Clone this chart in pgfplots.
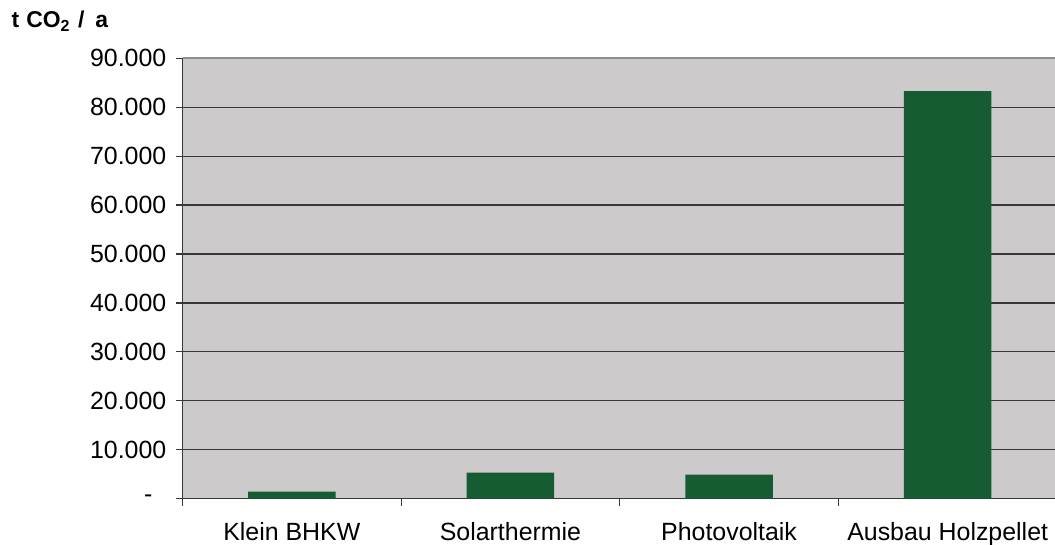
\documentclass[border=0pt]{standalone}
\usepackage{pgfplots}
\pgfplotsset{compat=1.18}
\usepackage{fontspec}
\setmainfont{Liberation Sans}
\definecolor{bg}{RGB}{204,202,203}
\definecolor{barc}{RGB}{21,92,50}
\definecolor{gridc}{RGB}{55,55,55}
\definecolor{topc}{RGB}{140,140,140}
\begin{document}
\begin{tikzpicture}[x=1bp,y=1bp]
\useasboundingbox (0,0) rectangle (1055,545);
\begin{axis}[
  at={(182.5bp,46.3bp)}, anchor=south west,
  scale only axis, width=874.5bp, height=440.4bp,
  xmin=-0.5, xmax=3.5, ymin=0, ymax=90000,
  scaled y ticks=false,
  axis background/.style={fill=bg},
  axis lines*=left,
  axis line style={-, draw=gridc, line width=1.6bp},
  ybar, bar width=0.4,
  tick align=outside,
  major tick length=7bp,
  tick style={draw=gridc, line width=1.2bp},
  xtick={-0.5,0.5,1.5,2.5},
  xticklabels={},
  extra x ticks={0,1,2,3},
  extra x tick labels={Klein BHKW,Solarthermie,Photovoltaik,Ausbau Holzpellet},
  extra x tick style={major tick length=0pt, grid=none},
  ytick={0,10000,20000,30000,40000,50000,60000,70000,80000,90000},
  yticklabels={{-\hspace*{14bp}},10.000,20.000,30.000,40.000,50.000,60.000,70.000,80.000,90.000},
  ymajorgrids,
  grid style={draw=gridc, line width=1.2bp},
  every tick label/.append style={font=\fontsize{25}{25}\selectfont, text=black},
  yticklabel style={anchor=east, inner sep=0pt, xshift=-9bp},
  xticklabel style={anchor=base, inner sep=0pt},
  extra x tick style={xticklabel style={anchor=base, inner sep=0pt, yshift=-42bp}},
  clip=false,
]
\addplot[fill=barc, draw=none] coordinates {(0,1430) (1,5320) (2,4900) (3,83300)};
\draw[topc, line width=1.6bp] (rel axis cs:0,1) -- (rel axis cs:1,1);
\end{axis}
\node[anchor=base west, inner sep=0pt, font=\bfseries\fontsize{23}{23}\selectfont] at (11.5,517) {t\hspace{7bp}CO\textsubscript{2}\hspace{8bp}/\hspace{11bp}a};
\end{tikzpicture}
\end{document}
